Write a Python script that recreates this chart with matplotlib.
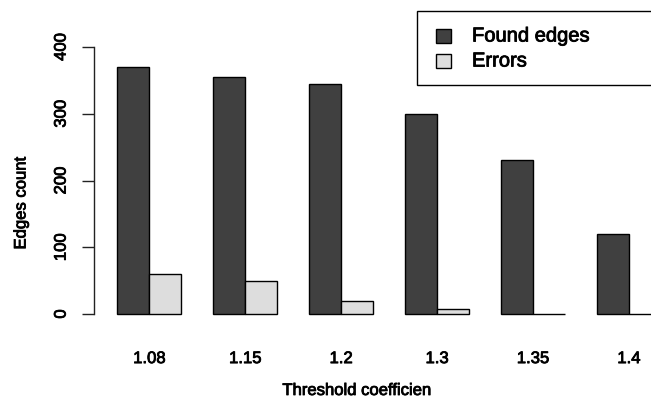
import numpy as np
import matplotlib
matplotlib.use('Agg')
import matplotlib.pyplot as plt
import matplotlib.patheffects as pe
from matplotlib.patches import Rectangle

# data
thresholds = ['1.08', '1.15', '1.2', '1.3', '1.35', '1.4']
found_edges = [370, 355, 345, 299, 230, 120]
errors = [60, 50, 20, 8, 0, 0]
series_names = ['Found edges', 'Errors']
series_colors = ['#404040', '#DDDDDD']

plt.rcParams['font.family'] = ['Liberation Sans', 'DejaVu Sans']
heavy = [pe.withStroke(linewidth=0.6, foreground='black')]

W, H = 651, 397
fig = plt.figure(figsize=(W / 100, H / 100), dpi=100)

# axes placed in pixel terms (R barplot look, right side cut off)
unit = 31.97
x0 = 94.3
xmin = 0.28
xmax = xmin + (W - x0) / unit
ypx_top, ypx_bot = 36.3, 324.7
ax = fig.add_axes([x0 / W, (H - ypx_bot) / H, (W - x0) / W, (ypx_bot - ypx_top) / H])

n = len(thresholds)
left = 1 + 3 * np.arange(n)
ax.bar(left, found_edges, width=1, align='edge', color=series_colors[0],
       edgecolor='black', linewidth=1.0)
ax.bar(left + 1, errors, width=1, align='edge', color=series_colors[1],
       edgecolor='black', linewidth=1.0)

ax.set_xlim(xmin, xmax)
ax.set_ylim(-16, 416)

for s in ['top', 'right', 'bottom']:
    ax.spines[s].set_visible(False)
ax.spines['left'].set_bounds(0, 400)
ax.spines['left'].set_linewidth(1.0)
ax.spines['left'].set_color('#222222')

ax.set_yticks([0, 100, 200, 300, 400])
ax.tick_params(axis='y', length=8.5, width=1.0, color='#222222', pad=10,
               labelsize=12, labelrotation=90)
for lab in ax.get_yticklabels():
    lab.set_va('center')
    lab.set_path_effects(heavy)

ax.set_xticks(left + 1)
ax.set_xticklabels(thresholds)
ax.tick_params(axis='x', length=0, pad=19, labelsize=12)
for lab in ax.get_xticklabels():
    lab.set_path_effects(heavy)

fig.text(357 / W, 2 / H, 'Threshold coefficien', ha='center', va='baseline',
         fontsize=12, path_effects=heavy)
fig.text(21 / W, 1 - 203 / H, 'Edges count', ha='center', va='center',
         rotation=90, fontsize=12, path_effects=heavy)

# legend box, drawn by hand so it runs off the right edge like the original
def px(x, y):
    return x / W, 1 - y / H

bx, by = px(417, 85)
fig.add_artist(Rectangle((bx, by), (W + 20 - 417) / W, (85 - 11) / H,
                         transform=fig.transFigure, facecolor='white',
                         edgecolor='black', linewidth=1.0, clip_on=False))
for i, (name, col) in enumerate(zip(series_names, series_colors)):
    yc = 36 + 25 * i
    sx, sy = px(436, yc + 7)
    fig.add_artist(Rectangle((sx, sy), 15 / W, 14 / H, transform=fig.transFigure,
                             facecolor=col, edgecolor='black', linewidth=1.0))
    tx, ty = px(472, yc)
    fig.text(tx, ty, name, ha='left', va='center', fontsize=14.5,
             path_effects=heavy)

fig.savefig('out.png', dpi=100)
